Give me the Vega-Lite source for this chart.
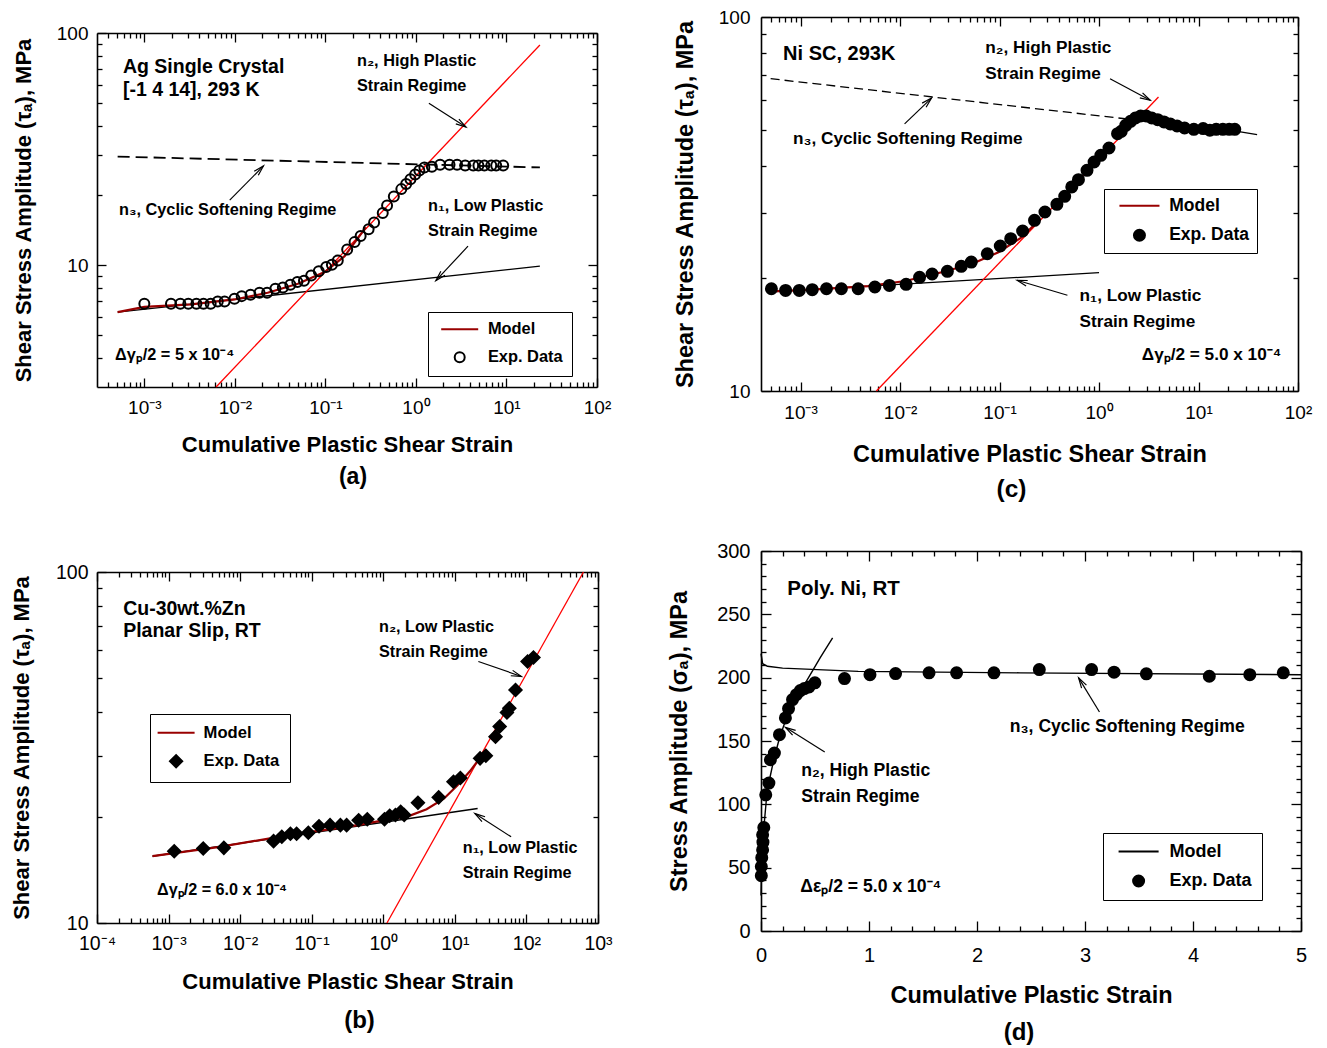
{
"$schema": "https://vega.github.io/schema/vega-lite/v6.json",
"background": "white",
"padding": {"left": 10, "top": 8, "right": 5, "bottom": 0},
"config": {
  "view": {"stroke": null},
  "font": "Liberation Sans",
  "axis": {"grid": false, "tickColor": "black", "domainColor": "black", "tickWidth": 1.3, "domainWidth": 1.6, "labelColor": "black", "labelFont": "Liberation Sans", "titleColor": "black", "titleFont": "Liberation Sans", "titleFontWeight": "bold", "labelFlush": false, "labelOverlap": false},
  "legend": {"labelFont": "Liberation Sans", "labelFontWeight": "bold", "labelColor": "black"},
  "title": {"font": "Liberation Sans", "fontWeight": "bold", "color": "black"}
},
"datasets": {
  "a_pts": [
    {"x":0.001,"y":6.84,"s":"Exp. Data"},{"x":0.00197,"y":6.84,"s":"Exp. Data"},{"x":0.0025,"y":6.84,"s":"Exp. Data"},{"x":0.00306,"y":6.84,"s":"Exp. Data"},{"x":0.00376,"y":6.84,"s":"Exp. Data"},{"x":0.0045,"y":6.84,"s":"Exp. Data"},{"x":0.0054,"y":6.84,"s":"Exp. Data"},{"x":0.00647,"y":7.0,"s":"Exp. Data"},{"x":0.0077,"y":7.0,"s":"Exp. Data"},{"x":0.0099,"y":7.19,"s":"Exp. Data"},{"x":0.0119,"y":7.38,"s":"Exp. Data"},{"x":0.0149,"y":7.48,"s":"Exp. Data"},{"x":0.0187,"y":7.63,"s":"Exp. Data"},{"x":0.0227,"y":7.63,"s":"Exp. Data"},{"x":0.028,"y":7.94,"s":"Exp. Data"},{"x":0.0339,"y":8.04,"s":"Exp. Data"},{"x":0.041,"y":8.26,"s":"Exp. Data"},{"x":0.049,"y":8.48,"s":"Exp. Data"},{"x":0.058,"y":8.59,"s":"Exp. Data"},{"x":0.0697,"y":9.06,"s":"Exp. Data"},{"x":0.0845,"y":9.45,"s":"Exp. Data"},{"x":0.102,"y":9.84,"s":"Exp. Data"},{"x":0.118,"y":10.07,"s":"Exp. Data"},{"x":0.137,"y":10.5,"s":"Exp. Data"},{"x":0.174,"y":11.7,"s":"Exp. Data"},{"x":0.21,"y":12.6,"s":"Exp. Data"},{"x":0.245,"y":13.4,"s":"Exp. Data"},{"x":0.3,"y":14.3,"s":"Exp. Data"},{"x":0.345,"y":15.3,"s":"Exp. Data"},{"x":0.43,"y":16.8,"s":"Exp. Data"},{"x":0.48,"y":18.1,"s":"Exp. Data"},{"x":0.57,"y":19.8,"s":"Exp. Data"},{"x":0.69,"y":21.3,"s":"Exp. Data"},{"x":0.78,"y":22.4,"s":"Exp. Data"},{"x":0.87,"y":23.5,"s":"Exp. Data"},{"x":0.98,"y":24.6,"s":"Exp. Data"},{"x":1.09,"y":25.6,"s":"Exp. Data"},{"x":1.24,"y":26.4,"s":"Exp. Data"},{"x":1.5,"y":26.6,"s":"Exp. Data"},{"x":1.85,"y":27.1,"s":"Exp. Data"},{"x":2.35,"y":27.1,"s":"Exp. Data"},{"x":2.85,"y":27.1,"s":"Exp. Data"},{"x":3.5,"y":26.9,"s":"Exp. Data"},{"x":4.3,"y":26.9,"s":"Exp. Data"},{"x":4.9,"y":26.9,"s":"Exp. Data"},{"x":5.7,"y":26.9,"s":"Exp. Data"},{"x":6.8,"y":26.9,"s":"Exp. Data"},{"x":7.7,"y":26.9,"s":"Exp. Data"},{"x":9.2,"y":26.9,"s":"Exp. Data"}
  ],
  "a_lines": [
    {"line":"model","x":0.000507,"y":6.3},{"line":"model","x":0.001,"y":6.63},{"line":"model","x":0.00328,"y":6.8},{"line":"model","x":0.0099,"y":7.14},{"line":"model","x":0.023,"y":7.63},{"line":"model","x":0.0497,"y":8.34},{"line":"model","x":0.098,"y":9.36},{"line":"model","x":0.163,"y":10.97},{"line":"model","x":0.28,"y":14.6},
    {"line":"n1","x":0.000507,"y":6.3},{"line":"n1","x":23.4,"y":9.93},
    {"line":"n2","x":0.0062,"y":3},{"line":"n2","x":23.4,"y":88.8},
    {"line":"n3","x":0.000507,"y":29.4},{"line":"n3","x":23.4,"y":26.4}
  ],
  "a_text": [
    {"k":"s","x":0.00058,"y":71.3,"t":"Ag Single Crystal"},
    {"k":"s","x":0.00058,"y":56.8,"t":"[-1 4 14], 293 K"},
    {"k":"r","x":0.223,"y":75.7,"t":"n₂, High Plastic"},
    {"k":"r","x":0.223,"y":59.2,"t":"Strain Regime"},
    {"k":"r","x":0.000525,"y":17.3,"t":"n₃, Cyclic Softening Regime"},
    {"k":"r","x":1.36,"y":17.96,"t":"n₁, Low Plastic"},
    {"k":"r","x":1.36,"y":14.0,"t":"Strain Regime"},
    {"k":"p","x":0.000474,"y":4.13,"t":"Δγₚ/2 = 5 x 10⁻⁴"}
  ],
  "a_arrows": [
    {"id":"n2","x":1.39,"y":49.9,"x2":3.57,"y2":39.4},
    {"id":"n3","x":0.00877,"y":19.1,"x2":0.0207,"y2":26.8},
    {"id":"n1","x":3.76,"y":12.1,"x2":1.66,"y2":8.6}
  ],
  "c_pts": [
    {"x":0.000509,"y":18.77,"s":"Exp. Data"},{"x":0.000707,"y":18.58,"s":"Exp. Data"},{"x":0.00097,"y":18.58,"s":"Exp. Data"},{"x":0.00131,"y":18.66,"s":"Exp. Data"},{"x":0.00182,"y":18.77,"s":"Exp. Data"},{"x":0.00257,"y":18.77,"s":"Exp. Data"},{"x":0.00379,"y":18.77,"s":"Exp. Data"},{"x":0.00558,"y":18.97,"s":"Exp. Data"},{"x":0.00781,"y":19.16,"s":"Exp. Data"},{"x":0.0115,"y":19.28,"s":"Exp. Data"},{"x":0.0157,"y":20.13,"s":"Exp. Data"},{"x":0.021,"y":20.55,"s":"Exp. Data"},{"x":0.0299,"y":20.89,"s":"Exp. Data"},{"x":0.0412,"y":21.54,"s":"Exp. Data"},{"x":0.052,"y":22.12,"s":"Exp. Data"},{"x":0.0753,"y":23.28,"s":"Exp. Data"},{"x":0.1017,"y":24.42,"s":"Exp. Data"},{"x":0.1295,"y":25.54,"s":"Exp. Data"},{"x":0.1706,"y":26.78,"s":"Exp. Data"},{"x":0.2247,"y":28.6,"s":"Exp. Data"},{"x":0.286,"y":30.1,"s":"Exp. Data"},{"x":0.377,"y":31.56,"s":"Exp. Data"},{"x":0.4516,"y":33.16,"s":"Exp. Data"},{"x":0.532,"y":35.12,"s":"Exp. Data"},{"x":0.621,"y":36.74,"s":"Exp. Data"},{"x":0.757,"y":38.9,"s":"Exp. Data"},{"x":0.892,"y":40.96,"s":"Exp. Data"},{"x":1.042,"y":42.67,"s":"Exp. Data"},{"x":1.259,"y":44.64,"s":"Exp. Data"},{"x":1.535,"y":48.76,"s":"Exp. Data"},{"x":1.673,"y":49.46,"s":"Exp. Data"},{"x":1.855,"y":51.33,"s":"Exp. Data"},{"x":2.075,"y":52.6,"s":"Exp. Data"},{"x":2.32,"y":53.7,"s":"Exp. Data"},{"x":2.618,"y":54.36,"s":"Exp. Data"},{"x":2.98,"y":54.36,"s":"Exp. Data"},{"x":3.39,"y":53.7,"s":"Exp. Data"},{"x":3.89,"y":53.15,"s":"Exp. Data"},{"x":4.5,"y":52.4,"s":"Exp. Data"},{"x":5.21,"y":51.75,"s":"Exp. Data"},{"x":6.09,"y":51.12,"s":"Exp. Data"},{"x":7.24,"y":50.49,"s":"Exp. Data"},{"x":8.97,"y":50.08,"s":"Exp. Data"},{"x":11.13,"y":50.3,"s":"Exp. Data"},{"x":13.0,"y":49.8,"s":"Exp. Data"},{"x":15.05,"y":50.08,"s":"Exp. Data"},{"x":17.57,"y":50.08,"s":"Exp. Data"},{"x":20.34,"y":50.08,"s":"Exp. Data"},{"x":23.14,"y":50.08,"s":"Exp. Data"}
  ],
  "c_lines": [
    {"line":"model","x":0.000509,"y":18.47},{"line":"model","x":0.00131,"y":18.66},{"line":"model","x":0.00478,"y":19.08},{"line":"model","x":0.0113,"y":19.68},{"line":"model","x":0.0268,"y":20.8},{"line":"model","x":0.0533,"y":21.89},{"line":"model","x":0.0975,"y":23.5},{"line":"model","x":0.1634,"y":25.65},{"line":"model","x":0.2307,"y":28.02},
    {"line":"n1","x":0.000509,"y":18.4},{"line":"n1","x":1.0,"y":20.72},
    {"line":"n2","x":0.00578,"y":10},{"line":"n2","x":3.96,"y":61.1},
    {"line":"n3","x":0.0005,"y":68.4},{"line":"n3","x":2.075,"y":53.25},
    {"line":"soft","x":2.9,"y":54.3},{"line":"soft","x":5.2,"y":51.8},{"line":"soft","x":10,"y":50.3},{"line":"soft","x":23,"y":49.6},{"line":"soft","x":38.8,"y":48.45}
  ],
  "c_text": [
    {"k":"s","x":0.000667,"y":79.8,"t":"Ni SC, 293K"},
    {"k":"r","x":0.0719,"y":82.6,"t":"n₂, High Plastic"},
    {"k":"r","x":0.0719,"y":70.5,"t":"Strain Regime"},
    {"k":"r","x":0.000839,"y":47.3,"t":"n₃, Cyclic Softening Regime"},
    {"k":"r","x":0.638,"y":17.92,"t":"n₁, Low Plastic"},
    {"k":"r","x":0.638,"y":15.3,"t":"Strain Regime"},
    {"k":"p","x":2.69,"y":12.5,"t":"Δγₚ/2 = 5.0 x 10⁻⁴"}
  ],
  "c_arrows": [
    {"id":"n2","x":1.29,"y":68.4,"x2":3.27,"y2":59.9},
    {"id":"n3","x":0.0111,"y":51.8,"x2":0.0207,"y2":60.7},
    {"id":"n1","x":0.481,"y":18.03,"x2":0.15,"y2":19.77}
  ],
  "b_pts": [
    {"x":0.0012,"y":16.02,"s":"Exp. Data"},{"x":0.00305,"y":16.3,"s":"Exp. Data"},{"x":0.00592,"y":16.37,"s":"Exp. Data"},{"x":0.0293,"y":17.11,"s":"Exp. Data"},{"x":0.0382,"y":17.6,"s":"Exp. Data"},{"x":0.0504,"y":17.95,"s":"Exp. Data"},{"x":0.0615,"y":17.95,"s":"Exp. Data"},{"x":0.0897,"y":18.07,"s":"Exp. Data"},{"x":0.1265,"y":18.87,"s":"Exp. Data"},{"x":0.1804,"y":19.0,"s":"Exp. Data"},{"x":0.2517,"y":19.0,"s":"Exp. Data"},{"x":0.3073,"y":19.0,"s":"Exp. Data"},{"x":0.453,"y":19.63,"s":"Exp. Data"},{"x":0.5976,"y":19.76,"s":"Exp. Data"},{"x":1.04,"y":19.76,"s":"Exp. Data"},{"x":1.23,"y":20.2,"s":"Exp. Data"},{"x":1.48,"y":20.3,"s":"Exp. Data"},{"x":1.75,"y":20.74,"s":"Exp. Data"},{"x":1.96,"y":20.3,"s":"Exp. Data"},{"x":3.05,"y":22.0,"s":"Exp. Data"},{"x":5.94,"y":22.8,"s":"Exp. Data"},{"x":9.57,"y":25.26,"s":"Exp. Data"},{"x":11.94,"y":25.9,"s":"Exp. Data"},{"x":22.5,"y":29.45,"s":"Exp. Data"},{"x":27.1,"y":29.97,"s":"Exp. Data"},{"x":37.0,"y":33.96,"s":"Exp. Data"},{"x":42.3,"y":36.3,"s":"Exp. Data"},{"x":53.4,"y":39.8,"s":"Exp. Data"},{"x":57.7,"y":40.9,"s":"Exp. Data"},{"x":70.4,"y":46.1,"s":"Exp. Data"},{"x":103.8,"y":55.6,"s":"Exp. Data"},{"x":125.4,"y":57.05,"s":"Exp. Data"}
  ],
  "b_lines": [
    {"line":"model","x":0.000596,"y":15.5},{"line":"model","x":0.00519,"y":16.48},{"line":"model","x":0.0477,"y":17.79},{"line":"model","x":0.438,"y":19.0},{"line":"model","x":1.04,"y":19.63},{"line":"model","x":2.31,"y":20.2},{"line":"model","x":4.03,"y":21.1},{"line":"model","x":7.01,"y":22.6},{"line":"model","x":10.9,"y":24.7},{"line":"model","x":16.1,"y":27.0},{"line":"model","x":21.3,"y":29.1},
    {"line":"n1","x":0.000596,"y":15.5},{"line":"n1","x":20.8,"y":21.2},
    {"line":"n2","x":1.125,"y":10},{"line":"n2","x":626,"y":100}
  ],
  "b_text": [
    {"k":"s","x":0.000232,"y":78.6,"t":"Cu-30wt.%Zn"},
    {"k":"s","x":0.000232,"y":68.0,"t":"Planar Slip, RT"},
    {"k":"r","x":0.871,"y":69.5,"t":"n₂, Low Plastic"},
    {"k":"r","x":0.871,"y":59.1,"t":"Strain Regime"},
    {"k":"r","x":12.9,"y":16.37,"t":"n₁, Low Plastic"},
    {"k":"r","x":12.9,"y":13.92,"t":"Strain Regime"},
    {"k":"p","x":0.000689,"y":12.4,"t":"Δγₚ/2 = 6.0 x 10⁻⁴"}
  ],
  "b_arrows": [
    {"id":"n2","x":21.3,"y":55.6,"x2":85.1,"y2":50.4},
    {"id":"n1","x":61.1,"y":17.6,"x2":19.05,"y2":20.5}
  ],
  "d_pts": [
    {"x":0.003,"y":43.7,"s":"Exp. Data"},{"x":0.003,"y":50.9,"s":"Exp. Data"},{"x":0.007,"y":57.9,"s":"Exp. Data"},{"x":0.015,"y":64.0,"s":"Exp. Data"},{"x":0.018,"y":70.1,"s":"Exp. Data"},{"x":0.015,"y":75.9,"s":"Exp. Data"},{"x":0.026,"y":81.7,"s":"Exp. Data"},{"x":0.044,"y":107.5,"s":"Exp. Data"},{"x":0.073,"y":116.8,"s":"Exp. Data"},{"x":0.087,"y":135.2,"s":"Exp. Data"},{"x":0.124,"y":140.5,"s":"Exp. Data"},{"x":0.171,"y":155.0,"s":"Exp. Data"},{"x":0.226,"y":168.2,"s":"Exp. Data"},{"x":0.255,"y":175.6,"s":"Exp. Data"},{"x":0.292,"y":182.7,"s":"Exp. Data"},{"x":0.328,"y":186.6,"s":"Exp. Data"},{"x":0.364,"y":189.8,"s":"Exp. Data"},{"x":0.401,"y":191.4,"s":"Exp. Data"},{"x":0.445,"y":192.7,"s":"Exp. Data"},{"x":0.499,"y":195.9,"s":"Exp. Data"},{"x":0.773,"y":199.3,"s":"Exp. Data"},{"x":1.009,"y":202.4,"s":"Exp. Data"},{"x":1.246,"y":203.2,"s":"Exp. Data"},{"x":1.556,"y":203.8,"s":"Exp. Data"},{"x":1.811,"y":203.8,"s":"Exp. Data"},{"x":2.157,"y":203.8,"s":"Exp. Data"},{"x":2.577,"y":206.4,"s":"Exp. Data"},{"x":3.061,"y":206.4,"s":"Exp. Data"},{"x":3.269,"y":204.3,"s":"Exp. Data"},{"x":3.568,"y":203.0,"s":"Exp. Data"},{"x":4.151,"y":201.1,"s":"Exp. Data"},{"x":4.526,"y":202.4,"s":"Exp. Data"},{"x":4.836,"y":203.8,"s":"Exp. Data"}
  ],
  "d_lines": [
    {"line":"n2","x":0.0,"y":28},{"line":"n2","x":0.005,"y":48},{"line":"n2","x":0.015,"y":66},{"line":"n2","x":0.03,"y":85},{"line":"n2","x":0.05,"y":104},{"line":"n2","x":0.08,"y":120},{"line":"n2","x":0.12,"y":136},{"line":"n2","x":0.17,"y":152},{"line":"n2","x":0.23,"y":167},{"line":"n2","x":0.3,"y":179},{"line":"n2","x":0.37,"y":190},{"line":"n2","x":0.44,"y":200},{"line":"n2","x":0.55,"y":216},{"line":"n2","x":0.663,"y":231.5},
    {"line":"n3","x":0.0,"y":219},{"line":"n3","x":0.015,"y":211},{"line":"n3","x":0.06,"y":209},{"line":"n3","x":0.2,"y":207.5},{"line":"n3","x":0.9,"y":205},{"line":"n3","x":2.4,"y":203.8},{"line":"n3","x":5.0,"y":202.3}
  ],
  "d_text": [
    {"k":"s","x":0.244,"y":269.7,"t":"Poly. Ni, RT"},
    {"k":"r","x":0.372,"y":126,"t":"n₂, High Plastic"},
    {"k":"r","x":0.372,"y":105.4,"t":"Strain Regime"},
    {"k":"r","x":2.303,"y":160.8,"t":"n₃, Cyclic Softening Regime"},
    {"k":"p","x":0.364,"y":35.0,"t":"Δεₚ/2 = 5.0 x 10⁻⁴"}
  ],
  "d_arrows": [
    {"id":"n2","x":0.59,"y":141.3,"x2":0.226,"y2":160.8},
    {"id":"n3","x":3.134,"y":172.9,"x2":2.941,"y2":199.8}
  ]
},
"columns": 2,
"spacing": {"row": 160, "column": 163},
"bounds": "flush",
"resolve": {"scale": {"color": "independent", "shape": "independent"}, "legend": {"color": "independent", "shape": "independent"}},
"concat": [
{
  "width": 500, "height": 370,
  "title": {"text": "(a)", "orient": "bottom", "frame": "group", "offset": 10.5, "dx": 6, "fontSize": 23},
  "resolve": {"axis": {"x": "independent", "y": "independent"}},
  "layer": [
    {"data": {"name": "a_lines"}, "transform": [{"filter": "datum.line === 'n3'"}],
     "mark": {"type": "line", "color": "black", "strokeWidth": 1.8, "strokeDash": [12, 6]},
     "encoding": {
       "x": {"field": "x", "type": "quantitative", "scale": {"type": "log", "domain": [0.0003, 100], "nice": false},
             "axis": {"orient": "bottom", "values": [0.001,0.01,0.1,1,10,100], "tickSize": -9, "labelExpr": "['10⁻⁴','10⁻³','10⁻²','10⁻¹','10⁰','10¹','10²','10³'][round(log(datum.value)/LN10)+4]", "labelFontSize": 19, "labelPadding": 20.8, "title": "Cumulative Plastic Shear Strain", "titleFontSize": 22, "titlePadding": 16.7}},
       "y": {"field": "y", "type": "quantitative", "scale": {"type": "log", "domain": [3, 100], "nice": false, "range": [370, 16]},
             "axis": {"orient": "left", "values": [10, 100], "format": "d", "tickSize": -9, "labelFontSize": 19, "labelPadding": 18, "title": "Shear Stress Amplitude (τₐ), MPa", "titleFontSize": 22, "titlePadding": 21, "titleY": 193}}
     }},
    {"data": {"name": "a_lines"}, "transform": [{"filter": "datum.line === 'n1'"}],
     "mark": {"type": "line", "color": "black", "strokeWidth": 1.3},
     "encoding": {
       "x": {"field": "x", "type": "quantitative", "scale": {"type": "log", "domain": [0.0003, 100], "nice": false},
             "axis": {"orient": "top", "offset": -16, "values": [0.001,0.01,0.1,1,10,100], "tickSize": -9, "labels": false, "title": null}},
       "y": {"field": "y", "type": "quantitative", "scale": {"type": "log", "domain": [3, 100], "nice": false, "range": [370, 16]},
             "axis": {"orient": "right", "values": [10, 100], "tickSize": -9, "labels": false, "title": null}}
     }},
    {"data": {"name": "a_lines"}, "transform": [{"filter": "datum.line === 'n2'"}],
     "mark": {"type": "line", "color": "#ff0000", "strokeWidth": 1.3},
     "encoding": {
       "x": {"field": "x", "type": "quantitative", "scale": {"type": "log", "domain": [0.0003, 100], "nice": false},
             "axis": {"orient": "bottom", "values": [0.0004,0.0005,0.0006,0.0007,0.0008,0.0009,0.002,0.003,0.004,0.005,0.006,0.007,0.008,0.009,0.02,0.03,0.04,0.05,0.06,0.07,0.08,0.09,0.2,0.3,0.4,0.5,0.6,0.7,0.8,0.9,2,3,4,5,6,7,8,9,20,30,40,50,60,70,80,90], "tickSize": -5, "labels": false, "domain": false, "title": null}},
       "y": {"field": "y", "type": "quantitative", "scale": {"type": "log", "domain": [3, 100], "nice": false, "range": [370, 16]},
             "axis": {"orient": "left", "values": [4,5,6,7,8,9,20,30,40,50,60,70,80,90], "tickSize": -5, "labels": false, "domain": false, "title": null}}
     }},
    {"data": {"name": "a_lines"}, "transform": [{"filter": "datum.line === 'model'"}],
     "mark": {"type": "line", "color": "#990000", "strokeWidth": 2.2},
     "encoding": {
       "x": {"field": "x", "type": "quantitative", "scale": {"type": "log", "domain": [0.0003, 100], "nice": false},
             "axis": {"orient": "top", "offset": -16, "values": [0.0004,0.0005,0.0006,0.0007,0.0008,0.0009,0.002,0.003,0.004,0.005,0.006,0.007,0.008,0.009,0.02,0.03,0.04,0.05,0.06,0.07,0.08,0.09,0.2,0.3,0.4,0.5,0.6,0.7,0.8,0.9,2,3,4,5,6,7,8,9,20,30,40,50,60,70,80,90], "tickSize": -5, "labels": false, "domain": false, "title": null}},
       "y": {"field": "y", "type": "quantitative", "scale": {"type": "log", "domain": [3, 100], "nice": false, "range": [370, 16]},
             "axis": {"orient": "right", "values": [4,5,6,7,8,9,20,30,40,50,60,70,80,90], "tickSize": -5, "labels": false, "domain": false, "title": null}}
     }},
    {"data": {"name": "a_arrows"},
     "mark": {"type": "rule", "color": "black", "strokeWidth": 1.2},
     "encoding": {
       "x": {"field": "x", "type": "quantitative", "scale": {"type": "log", "domain": [0.0003, 100], "nice": false}, "axis": null},
       "y": {"field": "y", "type": "quantitative", "scale": {"type": "log", "domain": [3, 100], "nice": false, "range": [370, 16]}, "axis": null},
       "x2": {"field": "x2"}, "y2": {"field": "y2"}
     }},
    {"data": {"name": "a_arrows"}, "transform": [{"filter": "datum.id === 'n2'"}],
     "mark": {"type": "point", "shape": "M-0.5,1.8L0,0L0.5,1.8", "size": 130, "filled": false, "color": "black", "strokeWidth": 1.2, "opacity": 1, "angle": 123},
     "encoding": {
       "x": {"field": "x2", "type": "quantitative", "scale": {"type": "log", "domain": [0.0003, 100], "nice": false}, "axis": null},
       "y": {"field": "y2", "type": "quantitative", "scale": {"type": "log", "domain": [3, 100], "nice": false, "range": [370, 16]}, "axis": null}
     }},
    {"data": {"name": "a_arrows"}, "transform": [{"filter": "datum.id === 'n3'"}],
     "mark": {"type": "point", "shape": "M-0.5,1.8L0,0L0.5,1.8", "size": 130, "filled": false, "color": "black", "strokeWidth": 1.2, "opacity": 1, "angle": 44.7},
     "encoding": {
       "x": {"field": "x2", "type": "quantitative", "scale": {"type": "log", "domain": [0.0003, 100], "nice": false}, "axis": null},
       "y": {"field": "y2", "type": "quantitative", "scale": {"type": "log", "domain": [3, 100], "nice": false, "range": [370, 16]}, "axis": null}
     }},
    {"data": {"name": "a_arrows"}, "transform": [{"filter": "datum.id === 'n1'"}],
     "mark": {"type": "point", "shape": "M-0.5,1.8L0,0L0.5,1.8", "size": 130, "filled": false, "color": "black", "strokeWidth": 1.2, "opacity": 1, "angle": 223.4},
     "encoding": {
       "x": {"field": "x2", "type": "quantitative", "scale": {"type": "log", "domain": [0.0003, 100], "nice": false}, "axis": null},
       "y": {"field": "y2", "type": "quantitative", "scale": {"type": "log", "domain": [3, 100], "nice": false, "range": [370, 16]}, "axis": null}
     }},
    {"data": {"name": "a_pts"},
     "mark": {"type": "point", "filled": false, "fill": "transparent", "size": 100, "opacity": 1},
     "encoding": {
       "x": {"field": "x", "type": "quantitative", "scale": {"type": "log", "domain": [0.0003, 100], "nice": false}, "axis": null},
       "y": {"field": "y", "type": "quantitative", "scale": {"type": "log", "domain": [3, 100], "nice": false, "range": [370, 16]}, "axis": null},
       "color": {"field": "s", "type": "nominal", "scale": {"domain": ["Model", "Exp. Data"], "range": ["#990000", "black"]},
                 "legend": {"title": null, "orient": "none", "legendX": 331, "legendY": 295, "padding": 9, "symbolSize": 100, "symbolStrokeWidth": 2, "symbolOffset": 14.5, "labelOffset": 20, "labelFontSize": 16.4, "rowPadding": 10, "strokeColor": "black", "fillColor": "white"}},
       "shape": {"field": "s", "type": "nominal", "scale": {"domain": ["Model", "Exp. Data"], "range": ["M-3.7,0H3.7", "circle"]},
                 "legend": {"title": null, "orient": "none", "legendX": 331, "legendY": 295, "padding": 9, "symbolSize": 100, "symbolStrokeWidth": 2, "symbolOffset": 14.5, "labelOffset": 20, "labelFontSize": 16.4, "rowPadding": 10, "strokeColor": "black", "fillColor": "white"}}
     }},
    {"data": {"name": "a_text"}, "transform": [{"filter": "datum.k === 's'"}],
     "mark": {"type": "text", "align": "left", "baseline": "middle", "fontWeight": "bold", "fontSize": 19.5, "font": "Liberation Sans", "color": "black"},
     "encoding": {
       "x": {"field": "x", "type": "quantitative", "scale": {"type": "log", "domain": [0.0003, 100], "nice": false}, "axis": null},
       "y": {"field": "y", "type": "quantitative", "scale": {"type": "log", "domain": [3, 100], "nice": false, "range": [370, 16]}, "axis": null},
       "text": {"field": "t"}
     }},
    {"data": {"name": "a_text"}, "transform": [{"filter": "datum.k !== 's'"}],
     "mark": {"type": "text", "align": "left", "baseline": "middle", "fontWeight": "bold", "fontSize": 16.3, "font": "Liberation Sans", "color": "black"},
     "encoding": {
       "x": {"field": "x", "type": "quantitative", "scale": {"type": "log", "domain": [0.0003, 100], "nice": false}, "axis": null},
       "y": {"field": "y", "type": "quantitative", "scale": {"type": "log", "domain": [3, 100], "nice": false, "range": [370, 16]}, "axis": null},
       "text": {"field": "t"}
     }}
  ]
},
{
  "width": 537, "height": 374,
  "title": {"text": "(c)", "orient": "bottom", "frame": "group", "offset": 12, "dx": -18, "fontSize": 24.5},
  "resolve": {"axis": {"x": "independent", "y": "independent"}},
  "layer": [
    {"data": {"name": "c_lines"}, "transform": [{"filter": "datum.line === 'n3'"}],
     "mark": {"type": "line", "color": "black", "strokeWidth": 1.3, "strokeDash": [9, 5]},
     "encoding": {
       "x": {"field": "x", "type": "quantitative", "scale": {"type": "log", "domain": [0.0004, 100], "nice": false},
             "axis": {"orient": "bottom", "values": [0.001,0.01,0.1,1,10,100], "tickSize": -9, "labelExpr": "['10⁻⁴','10⁻³','10⁻²','10⁻¹','10⁰','10¹','10²','10³'][round(log(datum.value)/LN10)+4]", "labelFontSize": 19, "labelPadding": 21.8, "title": "Cumulative Plastic Shear Strain", "titleFontSize": 23.5, "titlePadding": 20}},
       "y": {"field": "y", "type": "quantitative", "scale": {"type": "log", "domain": [10, 100], "nice": false},
             "axis": {"orient": "left", "values": [10, 100], "format": "d", "tickSize": -9, "labelFontSize": 19, "labelPadding": 20, "title": "Shear Stress Amplitude (τₐ), MPa", "titleFontSize": 23.5, "titlePadding": 21}}
     }},
    {"data": {"name": "c_lines"}, "transform": [{"filter": "datum.line === 'n1'"}],
     "mark": {"type": "line", "color": "black", "strokeWidth": 1.3},
     "encoding": {
       "x": {"field": "x", "type": "quantitative", "scale": {"type": "log", "domain": [0.0004, 100], "nice": false},
             "axis": {"orient": "top", "values": [0.001,0.01,0.1,1,10,100], "tickSize": -9, "labels": false, "title": null}},
       "y": {"field": "y", "type": "quantitative", "scale": {"type": "log", "domain": [10, 100], "nice": false},
             "axis": {"orient": "right", "values": [10, 100], "tickSize": -9, "labels": false, "title": null}}
     }},
    {"data": {"name": "c_lines"}, "transform": [{"filter": "datum.line === 'n2'"}],
     "mark": {"type": "line", "color": "#ff0000", "strokeWidth": 1.3},
     "encoding": {
       "x": {"field": "x", "type": "quantitative", "scale": {"type": "log", "domain": [0.0004, 100], "nice": false},
             "axis": {"orient": "bottom", "values": [0.0005,0.0006,0.0007,0.0008,0.0009,0.002,0.003,0.004,0.005,0.006,0.007,0.008,0.009,0.02,0.03,0.04,0.05,0.06,0.07,0.08,0.09,0.2,0.3,0.4,0.5,0.6,0.7,0.8,0.9,2,3,4,5,6,7,8,9,20,30,40,50,60,70,80,90], "tickSize": -5, "labels": false, "domain": false, "title": null}},
       "y": {"field": "y", "type": "quantitative", "scale": {"type": "log", "domain": [10, 100], "nice": false},
             "axis": {"orient": "left", "values": [20,30,40,50,60,70,80,90], "tickSize": -5, "labels": false, "domain": false, "title": null}}
     }},
    {"data": {"name": "c_lines"}, "transform": [{"filter": "datum.line === 'model'"}],
     "mark": {"type": "line", "color": "#990000", "strokeWidth": 2.2},
     "encoding": {
       "x": {"field": "x", "type": "quantitative", "scale": {"type": "log", "domain": [0.0004, 100], "nice": false},
             "axis": {"orient": "top", "values": [0.0005,0.0006,0.0007,0.0008,0.0009,0.002,0.003,0.004,0.005,0.006,0.007,0.008,0.009,0.02,0.03,0.04,0.05,0.06,0.07,0.08,0.09,0.2,0.3,0.4,0.5,0.6,0.7,0.8,0.9,2,3,4,5,6,7,8,9,20,30,40,50,60,70,80,90], "tickSize": -5, "labels": false, "domain": false, "title": null}},
       "y": {"field": "y", "type": "quantitative", "scale": {"type": "log", "domain": [10, 100], "nice": false},
             "axis": {"orient": "right", "values": [20,30,40,50,60,70,80,90], "tickSize": -5, "labels": false, "domain": false, "title": null}}
     }},
    {"data": {"name": "c_lines"}, "transform": [{"filter": "datum.line === 'soft'"}],
     "mark": {"type": "line", "color": "black", "strokeWidth": 1.3},
     "encoding": {
       "x": {"field": "x", "type": "quantitative", "scale": {"type": "log", "domain": [0.0004, 100], "nice": false}, "axis": null},
       "y": {"field": "y", "type": "quantitative", "scale": {"type": "log", "domain": [10, 100], "nice": false}, "axis": null}
     }},
    {"data": {"name": "c_arrows"},
     "mark": {"type": "rule", "color": "black", "strokeWidth": 1.2},
     "encoding": {
       "x": {"field": "x", "type": "quantitative", "scale": {"type": "log", "domain": [0.0004, 100], "nice": false}, "axis": null},
       "y": {"field": "y", "type": "quantitative", "scale": {"type": "log", "domain": [10, 100], "nice": false}, "axis": null},
       "x2": {"field": "x2"}, "y2": {"field": "y2"}
     }},
    {"data": {"name": "c_arrows"}, "transform": [{"filter": "datum.id === 'n2'"}],
     "mark": {"type": "point", "shape": "M-0.5,1.8L0,0L0.5,1.8", "size": 130, "filled": false, "color": "black", "strokeWidth": 1.2, "opacity": 1, "angle": 118.4},
     "encoding": {
       "x": {"field": "x2", "type": "quantitative", "scale": {"type": "log", "domain": [0.0004, 100], "nice": false}, "axis": null},
       "y": {"field": "y2", "type": "quantitative", "scale": {"type": "log", "domain": [10, 100], "nice": false}, "axis": null}
     }},
    {"data": {"name": "c_arrows"}, "transform": [{"filter": "datum.id === 'n3'"}],
     "mark": {"type": "point", "shape": "M-0.5,1.8L0,0L0.5,1.8", "size": 130, "filled": false, "color": "black", "strokeWidth": 1.2, "opacity": 1, "angle": 46.1},
     "encoding": {
       "x": {"field": "x2", "type": "quantitative", "scale": {"type": "log", "domain": [0.0004, 100], "nice": false}, "axis": null},
       "y": {"field": "y2", "type": "quantitative", "scale": {"type": "log", "domain": [10, 100], "nice": false}, "axis": null}
     }},
    {"data": {"name": "c_arrows"}, "transform": [{"filter": "datum.id === 'n1'"}],
     "mark": {"type": "point", "shape": "M-0.5,1.8L0,0L0.5,1.8", "size": 130, "filled": false, "color": "black", "strokeWidth": 1.2, "opacity": 1, "angle": 286.7},
     "encoding": {
       "x": {"field": "x2", "type": "quantitative", "scale": {"type": "log", "domain": [0.0004, 100], "nice": false}, "axis": null},
       "y": {"field": "y2", "type": "quantitative", "scale": {"type": "log", "domain": [10, 100], "nice": false}, "axis": null}
     }},
    {"data": {"name": "c_pts"},
     "mark": {"type": "point", "filled": false, "fill": "black", "size": 121, "opacity": 1},
     "encoding": {
       "x": {"field": "x", "type": "quantitative", "scale": {"type": "log", "domain": [0.0004, 100], "nice": false}, "axis": null},
       "y": {"field": "y", "type": "quantitative", "scale": {"type": "log", "domain": [10, 100], "nice": false}, "axis": null},
       "color": {"field": "s", "type": "nominal", "scale": {"domain": ["Model", "Exp. Data"], "range": ["#990000", "black"]},
                 "legend": {"title": null, "orient": "none", "legendX": 343, "legendY": 172, "padding": 8, "symbolSize": 121, "symbolStrokeWidth": 2, "symbolOffset": 18.7, "labelOffset": 21, "labelFontSize": 17.5, "rowPadding": 10.5, "strokeColor": "black", "fillColor": "white"}},
       "shape": {"field": "s", "type": "nominal", "scale": {"domain": ["Model", "Exp. Data"], "range": ["M-3.64,0H3.64", "circle"]},
                 "legend": {"title": null, "orient": "none", "legendX": 343, "legendY": 172, "padding": 8, "symbolSize": 121, "symbolStrokeWidth": 2, "symbolOffset": 18.7, "labelOffset": 21, "labelFontSize": 17.5, "rowPadding": 10.5, "strokeColor": "black", "fillColor": "white"}}
     }},
    {"data": {"name": "c_text"}, "transform": [{"filter": "datum.k === 's'"}],
     "mark": {"type": "text", "align": "left", "baseline": "middle", "fontWeight": "bold", "fontSize": 20, "font": "Liberation Sans", "color": "black"},
     "encoding": {
       "x": {"field": "x", "type": "quantitative", "scale": {"type": "log", "domain": [0.0004, 100], "nice": false}, "axis": null},
       "y": {"field": "y", "type": "quantitative", "scale": {"type": "log", "domain": [10, 100], "nice": false}, "axis": null},
       "text": {"field": "t"}
     }},
    {"data": {"name": "c_text"}, "transform": [{"filter": "datum.k !== 's'"}],
     "mark": {"type": "text", "align": "left", "baseline": "middle", "fontWeight": "bold", "fontSize": 17.2, "font": "Liberation Sans", "color": "black"},
     "encoding": {
       "x": {"field": "x", "type": "quantitative", "scale": {"type": "log", "domain": [0.0004, 100], "nice": false}, "axis": null},
       "y": {"field": "y", "type": "quantitative", "scale": {"type": "log", "domain": [10, 100], "nice": false}, "axis": null},
       "text": {"field": "t"}
     }}
  ]
},
{
  "width": 501, "height": 372,
  "title": {"text": "(b)", "orient": "bottom", "frame": "group", "offset": 17, "dx": 12, "fontSize": 24},
  "resolve": {"axis": {"x": "independent", "y": "independent"}},
  "layer": [
    {"data": {"name": "b_lines"}, "transform": [{"filter": "datum.line === 'n1'"}],
     "mark": {"type": "line", "color": "black", "strokeWidth": 1.5},
     "encoding": {
       "x": {"field": "x", "type": "quantitative", "scale": {"type": "log", "domain": [0.0001, 1000], "nice": false},
             "axis": {"orient": "bottom", "values": [0.0001,0.001,0.01,0.1,1,10,100,1000], "tickSize": -9, "labelExpr": "['10⁻⁴','10⁻³','10⁻²','10⁻¹','10⁰','10¹','10²','10³'][round(log(datum.value)/LN10)+4]", "labelFontSize": 19.5, "labelPadding": 20.8, "title": "Cumulative Plastic Shear Strain", "titleFontSize": 22, "titlePadding": 17.7}},
       "y": {"field": "y", "type": "quantitative", "scale": {"type": "log", "domain": [10, 100], "nice": false, "range": [372, 21]},
             "axis": {"orient": "left", "values": [10, 100], "format": "d", "tickSize": -9, "labelFontSize": 19.5, "labelPadding": 18, "title": "Shear Stress Amplitude (τₐ), MPa", "titleFontSize": 22, "titlePadding": 22, "titleY": 196.5}}
     }},
    {"data": {"name": "b_lines"}, "transform": [{"filter": "datum.line === 'n2'"}],
     "mark": {"type": "line", "color": "#ff0000", "strokeWidth": 1.3},
     "encoding": {
       "x": {"field": "x", "type": "quantitative", "scale": {"type": "log", "domain": [0.0001, 1000], "nice": false},
             "axis": {"orient": "top", "offset": -21, "values": [0.0001,0.001,0.01,0.1,1,10,100,1000], "tickSize": -9, "labels": false, "title": null}},
       "y": {"field": "y", "type": "quantitative", "scale": {"type": "log", "domain": [10, 100], "nice": false, "range": [372, 21]},
             "axis": {"orient": "right", "values": [10, 100], "tickSize": -9, "labels": false, "title": null}}
     }},
    {"data": {"name": "b_lines"}, "transform": [{"filter": "datum.line === 'model'"}],
     "mark": {"type": "line", "color": "#990000", "strokeWidth": 2.2},
     "encoding": {
       "x": {"field": "x", "type": "quantitative", "scale": {"type": "log", "domain": [0.0001, 1000], "nice": false},
             "axis": {"orient": "bottom", "values": [0.0002,0.0003,0.0004,0.0005,0.0006,0.0007,0.0008,0.0009,0.002,0.003,0.004,0.005,0.006,0.007,0.008,0.009,0.02,0.03,0.04,0.05,0.06,0.07,0.08,0.09,0.2,0.3,0.4,0.5,0.6,0.7,0.8,0.9,2,3,4,5,6,7,8,9,20,30,40,50,60,70,80,90,200,300,400,500,600,700,800,900], "tickSize": -5, "labels": false, "domain": false, "title": null}},
       "y": {"field": "y", "type": "quantitative", "scale": {"type": "log", "domain": [10, 100], "nice": false, "range": [372, 21]},
             "axis": {"orient": "left", "values": [20,30,40,50,60,70,80,90], "tickSize": -5, "labels": false, "domain": false, "title": null}}
     }},
    {"data": {"name": "b_arrows"},
     "mark": {"type": "rule", "color": "black", "strokeWidth": 1.2},
     "encoding": {
       "x": {"field": "x", "type": "quantitative", "scale": {"type": "log", "domain": [0.0001, 1000], "nice": false},
             "axis": {"orient": "top", "offset": -21, "values": [0.0002,0.0003,0.0004,0.0005,0.0006,0.0007,0.0008,0.0009,0.002,0.003,0.004,0.005,0.006,0.007,0.008,0.009,0.02,0.03,0.04,0.05,0.06,0.07,0.08,0.09,0.2,0.3,0.4,0.5,0.6,0.7,0.8,0.9,2,3,4,5,6,7,8,9,20,30,40,50,60,70,80,90,200,300,400,500,600,700,800,900], "tickSize": -5, "labels": false, "domain": false, "title": null}},
       "y": {"field": "y", "type": "quantitative", "scale": {"type": "log", "domain": [10, 100], "nice": false, "range": [372, 21]},
             "axis": {"orient": "right", "values": [20,30,40,50,60,70,80,90], "tickSize": -5, "labels": false, "domain": false, "title": null}},
       "x2": {"field": "x2"}, "y2": {"field": "y2"}
     }},
    {"data": {"name": "b_arrows"}, "transform": [{"filter": "datum.id === 'n2'"}],
     "mark": {"type": "point", "shape": "M-0.5,1.8L0,0L0.5,1.8", "size": 130, "filled": false, "color": "black", "strokeWidth": 1.2, "opacity": 1, "angle": 109.2},
     "encoding": {
       "x": {"field": "x2", "type": "quantitative", "scale": {"type": "log", "domain": [0.0001, 1000], "nice": false}, "axis": null},
       "y": {"field": "y2", "type": "quantitative", "scale": {"type": "log", "domain": [10, 100], "nice": false, "range": [372, 21]}, "axis": null}
     }},
    {"data": {"name": "b_arrows"}, "transform": [{"filter": "datum.id === 'n1'"}],
     "mark": {"type": "point", "shape": "M-0.5,1.8L0,0L0.5,1.8", "size": 130, "filled": false, "color": "black", "strokeWidth": 1.2, "opacity": 1, "angle": 302.8},
     "encoding": {
       "x": {"field": "x2", "type": "quantitative", "scale": {"type": "log", "domain": [0.0001, 1000], "nice": false}, "axis": null},
       "y": {"field": "y2", "type": "quantitative", "scale": {"type": "log", "domain": [10, 100], "nice": false, "range": [372, 21]}, "axis": null}
     }},
    {"data": {"name": "b_pts"},
     "mark": {"type": "point", "filled": false, "fill": "black", "size": 150, "opacity": 1},
     "encoding": {
       "x": {"field": "x", "type": "quantitative", "scale": {"type": "log", "domain": [0.0001, 1000], "nice": false}, "axis": null},
       "y": {"field": "y", "type": "quantitative", "scale": {"type": "log", "domain": [10, 100], "nice": false, "range": [372, 21]}, "axis": null},
       "color": {"field": "s", "type": "nominal", "scale": {"domain": ["Model", "Exp. Data"], "range": ["#990000", "black"]},
                 "legend": {"title": null, "orient": "none", "legendX": 53, "legendY": 163, "padding": 10.5, "symbolSize": 150, "symbolStrokeWidth": 2, "symbolOffset": 7.3, "labelOffset": 19.2, "labelFontSize": 16.6, "rowPadding": 9.4, "strokeColor": "black", "fillColor": "white"}},
       "shape": {"field": "s", "type": "nominal", "scale": {"domain": ["Model", "Exp. Data"], "range": ["M-3.02,0H3.02", "diamond"]},
                 "legend": {"title": null, "orient": "none", "legendX": 53, "legendY": 163, "padding": 10.5, "symbolSize": 150, "symbolStrokeWidth": 2, "symbolOffset": 7.3, "labelOffset": 19.2, "labelFontSize": 16.6, "rowPadding": 9.4, "strokeColor": "black", "fillColor": "white"}}
     }},
    {"data": {"name": "b_text"}, "transform": [{"filter": "datum.k === 's'"}],
     "mark": {"type": "text", "align": "left", "baseline": "middle", "fontWeight": "bold", "fontSize": 19.5, "font": "Liberation Sans", "color": "black"},
     "encoding": {
       "x": {"field": "x", "type": "quantitative", "scale": {"type": "log", "domain": [0.0001, 1000], "nice": false}, "axis": null},
       "y": {"field": "y", "type": "quantitative", "scale": {"type": "log", "domain": [10, 100], "nice": false, "range": [372, 21]}, "axis": null},
       "text": {"field": "t"}
     }},
    {"data": {"name": "b_text"}, "transform": [{"filter": "datum.k !== 's'"}],
     "mark": {"type": "text", "align": "left", "baseline": "middle", "fontWeight": "bold", "fontSize": 16.2, "font": "Liberation Sans", "color": "black"},
     "encoding": {
       "x": {"field": "x", "type": "quantitative", "scale": {"type": "log", "domain": [0.0001, 1000], "nice": false}, "axis": null},
       "y": {"field": "y", "type": "quantitative", "scale": {"type": "log", "domain": [10, 100], "nice": false, "range": [372, 21]}, "axis": null},
       "text": {"field": "t"}
     }}
  ]
},
{
  "width": 540, "height": 380,
  "title": {"text": "(d)", "orient": "bottom", "frame": "group", "offset": 14, "dx": -12, "fontSize": 24},
  "resolve": {"axis": {"x": "independent", "y": "independent"}},
  "layer": [
    {"data": {"name": "d_lines"}, "transform": [{"filter": "datum.line === 'n3'"}],
     "mark": {"type": "line", "color": "black", "strokeWidth": 1.4},
     "encoding": {
       "x": {"field": "x", "type": "quantitative", "scale": {"type": "linear", "domain": [0, 5], "nice": false, "zero": false},
             "axis": {"orient": "bottom", "values": [0,1,2,3,4,5], "tickSize": -10, "labelFontSize": 20, "labelPadding": 24.4, "title": "Cumulative Plastic Strain", "titleFontSize": 23.5, "titlePadding": 18.5}},
       "y": {"field": "y", "type": "quantitative", "scale": {"type": "linear", "domain": [0, 300], "nice": false},
             "axis": {"orient": "left", "values": [0,50,100,150,200,250,300], "tickSize": -10, "labelFontSize": 20, "labelPadding": 21, "title": "Stress Amplitude (σₐ), MPa", "titleFontSize": 23.5, "titlePadding": 25}}
     }},
    {"data": {"name": "d_lines"}, "transform": [{"filter": "datum.line === 'n2'"}],
     "mark": {"type": "line", "color": "black", "strokeWidth": 1.4},
     "encoding": {
       "x": {"field": "x", "type": "quantitative", "scale": {"type": "linear", "domain": [0, 5], "nice": false, "zero": false},
             "axis": {"orient": "top", "values": [0,1,2,3,4,5], "tickSize": -10, "labels": false, "title": null}},
       "y": {"field": "y", "type": "quantitative", "scale": {"type": "linear", "domain": [0, 300], "nice": false},
             "axis": {"orient": "right", "values": [0,50,100,150,200,250,300], "tickSize": -10, "labels": false, "title": null}}
     }},
    {"data": {"name": "d_arrows"},
     "mark": {"type": "rule", "color": "black", "strokeWidth": 1.2},
     "encoding": {
       "x": {"field": "x", "type": "quantitative", "scale": {"type": "linear", "domain": [0, 5], "nice": false, "zero": false},
             "axis": {"orient": "bottom", "values": [0.2,0.4,0.6,0.8,1.2,1.4,1.6,1.8,2.2,2.4,2.6,2.8,3.2,3.4,3.6,3.8,4.2,4.4,4.6,4.8], "tickSize": -5, "labels": false, "domain": false, "title": null}},
       "y": {"field": "y", "type": "quantitative", "scale": {"type": "linear", "domain": [0, 300], "nice": false},
             "axis": {"orient": "left", "values": [10,20,30,40,60,70,80,90,110,120,130,140,160,170,180,190,210,220,230,240,260,270,280,290], "tickSize": -5, "labels": false, "domain": false, "title": null}},
       "x2": {"field": "x2"}, "y2": {"field": "y2"}
     }},
    {"data": {"name": "d_arrows"}, "transform": [{"filter": "datum.id === 'n2'"}],
     "mark": {"type": "point", "shape": "M-0.5,1.8L0,0L0.5,1.8", "size": 130, "filled": false, "color": "black", "strokeWidth": 1.2, "opacity": 1, "angle": 302},
     "encoding": {
       "x": {"field": "x2", "type": "quantitative", "scale": {"type": "linear", "domain": [0, 5], "nice": false, "zero": false}, "axis": null},
       "y": {"field": "y2", "type": "quantitative", "scale": {"type": "linear", "domain": [0, 300], "nice": false}, "axis": null}
     }},
    {"data": {"name": "d_arrows"}, "transform": [{"filter": "datum.id === 'n3'"}],
     "mark": {"type": "point", "shape": "M-0.5,1.8L0,0L0.5,1.8", "size": 130, "filled": false, "color": "black", "strokeWidth": 1.2, "opacity": 1, "angle": 328.4},
     "encoding": {
       "x": {"field": "x2", "type": "quantitative", "scale": {"type": "linear", "domain": [0, 5], "nice": false, "zero": false}, "axis": null},
       "y": {"field": "y2", "type": "quantitative", "scale": {"type": "linear", "domain": [0, 300], "nice": false}, "axis": null}
     }},
    {"data": {"name": "d_pts"},
     "mark": {"type": "point", "filled": false, "fill": "black", "size": 121, "opacity": 1},
     "encoding": {
       "x": {"field": "x", "type": "quantitative", "scale": {"type": "linear", "domain": [0, 5], "nice": false, "zero": false},
             "axis": {"orient": "top", "values": [0.2,0.4,0.6,0.8,1.2,1.4,1.6,1.8,2.2,2.4,2.6,2.8,3.2,3.4,3.6,3.8,4.2,4.4,4.6,4.8], "tickSize": -5, "labels": false, "domain": false, "title": null}},
       "y": {"field": "y", "type": "quantitative", "scale": {"type": "linear", "domain": [0, 300], "nice": false},
             "axis": {"orient": "right", "values": [10,20,30,40,60,70,80,90,110,120,130,140,160,170,180,190,210,220,230,240,260,270,280,290], "tickSize": -5, "labels": false, "domain": false, "title": null}},
       "color": {"field": "s", "type": "nominal", "scale": {"domain": ["Model", "Exp. Data"], "range": ["black", "black"]},
                 "legend": {"title": null, "orient": "none", "legendX": 342, "legendY": 282, "padding": 9.5, "symbolSize": 121, "symbolStrokeWidth": 2, "symbolOffset": 17.1, "labelOffset": 21.9, "labelFontSize": 18, "rowPadding": 10.5, "strokeColor": "black", "fillColor": "white"}},
       "shape": {"field": "s", "type": "nominal", "scale": {"domain": ["Model", "Exp. Data"], "range": ["M-3.64,0H3.64", "circle"]},
                 "legend": {"title": null, "orient": "none", "legendX": 342, "legendY": 282, "padding": 9.5, "symbolSize": 121, "symbolStrokeWidth": 2, "symbolOffset": 17.1, "labelOffset": 21.9, "labelFontSize": 18, "rowPadding": 10.5, "strokeColor": "black", "fillColor": "white"}}
     }},
    {"data": {"name": "d_text"}, "transform": [{"filter": "datum.k === 's'"}],
     "mark": {"type": "text", "align": "left", "baseline": "middle", "fontWeight": "bold", "fontSize": 20.5, "font": "Liberation Sans", "color": "black"},
     "encoding": {
       "x": {"field": "x", "type": "quantitative", "scale": {"type": "linear", "domain": [0, 5], "nice": false, "zero": false}, "axis": null},
       "y": {"field": "y", "type": "quantitative", "scale": {"type": "linear", "domain": [0, 300], "nice": false}, "axis": null},
       "text": {"field": "t"}
     }},
    {"data": {"name": "d_text"}, "transform": [{"filter": "datum.k !== 's'"}],
     "mark": {"type": "text", "align": "left", "baseline": "middle", "fontWeight": "bold", "fontSize": 17.6, "font": "Liberation Sans", "color": "black"},
     "encoding": {
       "x": {"field": "x", "type": "quantitative", "scale": {"type": "linear", "domain": [0, 5], "nice": false, "zero": false}, "axis": null},
       "y": {"field": "y", "type": "quantitative", "scale": {"type": "linear", "domain": [0, 300], "nice": false}, "axis": null},
       "text": {"field": "t"}
     }}
  ]
}
]
}
